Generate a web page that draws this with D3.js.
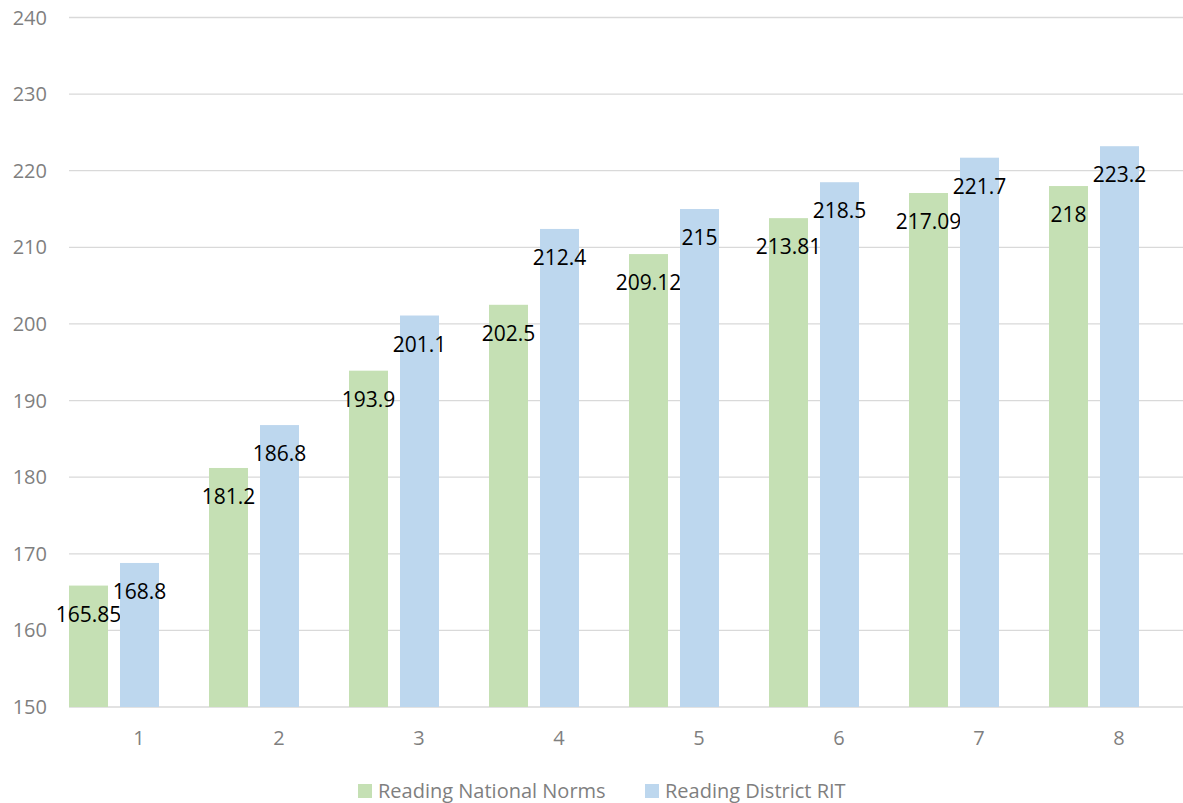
<!DOCTYPE html>
<html>
<head>
<meta charset="utf-8">
<script src="https://cdn.jsdelivr.net/npm/d3@7"></script>
<style>
  html, body { margin: 0; padding: 0; background: #fff; }
  svg { display: block; }
  text { font-family: "Open Sans", "Noto Sans", sans-serif; }
</style>
</head>
<body>
<svg id="chart" width="1183" height="803"></svg>
<script>
// grades on the x axis
var grades = ["1", "2", "3", "4", "5", "6", "7", "8"];
// series values
var nationalNorms = [165.85, 181.2, 193.9, 202.5, 209.12, 213.81, 217.09, 218];
var districtRIT = [168.8, 186.8, 201.1, 212.4, 215, 218.5, 221.7, 223.2];
var yTicks = [150, 160, 170, 180, 190, 200, 210, 220, 230, 240];
var seriesNames = ["Reading National Norms", "Reading District RIT"];
var seriesColors = ["#C5E0B4", "#BDD7EE"];

var svg = d3.select("#chart");

var x = d3.scaleBand().domain(grades).range([69, 1189]).padding(0);
var y = d3.scaleLinear().domain([150, 240]).range([707, 17.5]);

// gridlines
svg.append("g")
  .selectAll("line")
  .data(yTicks)
  .enter().append("line")
  .attr("x1", 69).attr("x2", 1183)
  .attr("y1", function(d) { return y(d); })
  .attr("y2", function(d) { return y(d); })
  .attr("stroke", "#D9D9D9")
  .attr("stroke-width", 1.3);

// y tick labels
svg.append("g")
  .selectAll("text")
  .data(yTicks)
  .enter().append("text")
  .attr("x", 47)
  .attr("y", function(d) { return y(d); })
  .attr("dy", "0.35em")
  .attr("text-anchor", "end")
  .attr("fill", "#7F7F7F")
  .attr("font-size", 20)
  .text(function(d) { return d; });

// x tick labels
svg.append("g")
  .selectAll("text")
  .data(grades)
  .enter().append("text")
  .attr("x", function(d) { return x(d) + x.bandwidth() / 2; })
  .attr("y", 745)
  .attr("text-anchor", "middle")
  .attr("fill", "#7F7F7F")
  .attr("font-size", 20)
  .text(function(d) { return d; });

// bar placement inside each band (third empty slot in the source chart)
var bw = x.bandwidth();
var barW = bw * 39 / 140;
var offsets = [0, bw * 51 / 140];

var series = [nationalNorms, districtRIT];
series.forEach(function(vals, si) {
  var rows = grades.map(function(g, i) { return {g: g, v: vals[i]}; });
  svg.append("g")
    .selectAll("rect")
    .data(rows)
    .enter().append("rect")
    .attr("x", function(d) { return x(d.g) + offsets[si]; })
    .attr("y", function(d) { return y(d.v); })
    .attr("width", barW)
    .attr("height", function(d) { return y(150) - y(d.v); })
    .attr("fill", seriesColors[si]);

  // data labels, inside end
  svg.append("g")
    .selectAll("text")
    .data(rows)
    .enter().append("text")
    .attr("x", function(d) { return x(d.g) + offsets[si] + barW / 2; })
    .attr("y", function(d) { return y(d.v) + 36; })
    .attr("text-anchor", "middle")
    .attr("fill", "#000")
    .attr("font-size", 21)
    .text(function(d) { return d.v; });
});

// legend
var legend = svg.append("g");
var legendX = [358, 645];
seriesNames.forEach(function(name, i) {
  legend.append("rect")
    .attr("x", legendX[i]).attr("y", 784)
    .attr("width", 14).attr("height", 14)
    .attr("fill", seriesColors[i]);
  legend.append("text")
    .attr("x", legendX[i] + 20)
    .attr("y", 798)
    .attr("fill", "#7F7F7F")
    .attr("font-size", 20)
    .text(name);
});
</script>
</body>
</html>
